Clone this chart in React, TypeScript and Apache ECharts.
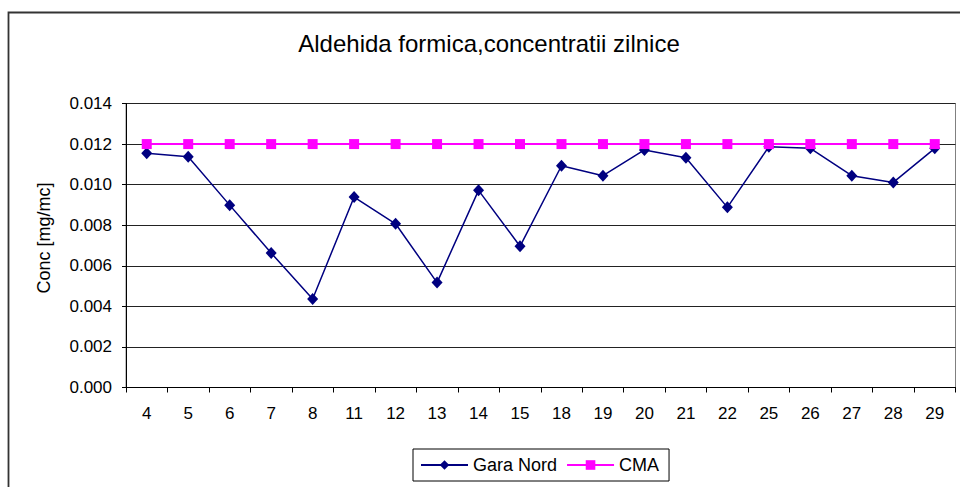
import React, { useEffect, useRef } from "react";
import * as echarts from "echarts";

const categories = ["4", "5", "6", "7", "8", "11", "12", "13", "14", "15", "18", "19", "20", "21", "22", "25", "26", "27", "28", "29"];
const garaNord = [0.01155, 0.01138, 0.00899, 0.00663, 0.00436, 0.00939, 0.00807, 0.00517, 0.00972, 0.00696, 0.01093, 0.01044, 0.01171, 0.01133, 0.00888, 0.01187, 0.01179, 0.01044, 0.01011, 0.01179];
const cma = categories.map(() => 0.012);
const titleText = "Aldehida formica,concentratii zilnice";
const yAxisTitle = "Conc [mg/mc]";
const FONT = "'Liberation Sans', Arial, sans-serif";

export default function App() {
  const ref = useRef<HTMLDivElement>(null);
  useEffect(() => {
    if (!ref.current) return;
    const chart = echarts.init(ref.current, undefined, { renderer: "svg" });
    chart.setOption({
      animation: false,
      backgroundColor: "#fff",
      textStyle: { fontFamily: FONT },
      graphic: [
        {
          type: "rect",
          shape: { x: 8.5, y: 12.5, width: 1000, height: 600 },
          style: { fill: "none", stroke: "#333", lineWidth: 1.8 },
          silent: true,
        },
        {
          type: "text",
          x: 489,
          y: 43,
          style: { text: titleText, font: `24px ${FONT}`, fill: "#000", textAlign: "center", textVerticalAlign: "middle" },
        },
        {
          type: "text",
          x: 44,
          y: 238,
          rotation: Math.PI / 2,
          style: { text: yAxisTitle, font: `18px ${FONT}`, fill: "#000", textAlign: "center", textVerticalAlign: "middle" },
        },
      ],
      grid: {
        left: 126,
        right: 4.5,
        top: 103.5,
        bottom: 99.5,
        show: true,
        borderColor: "#808080",
        borderWidth: 1,
        containLabel: false,
      },
      legend: {
        left: 413,
        top: 449,
        padding: [7, 10, 7, 7],
        itemGap: 9,
        itemWidth: 47,
        itemHeight: 12,
        borderColor: "#000",
        borderWidth: 1,
        textStyle: { fontSize: 18, color: "#000", fontFamily: FONT },
        data: ["Gara Nord", "CMA"],
      },
      xAxis: {
        type: "category",
        data: categories,
        boundaryGap: true,
        axisLine: { lineStyle: { color: "#000", width: 1 } },
        axisTick: { show: true, length: 5, interval: 0, lineStyle: { color: "#000" } },
        axisLabel: { interval: 0, fontSize: 17, color: "#000", margin: 17, fontFamily: FONT },
        splitLine: { show: false },
      },
      yAxis: {
        type: "value",
        min: 0,
        max: 0.014,
        interval: 0.002,
        axisLine: { show: true, lineStyle: { color: "#000", width: 1 } },
        axisTick: { show: true, length: 4, lineStyle: { color: "#000" } },
        axisLabel: { fontSize: 17, color: "#000", margin: 14, fontFamily: FONT, formatter: (v: number) => v.toFixed(3) },
        splitLine: { show: true, lineStyle: { color: "#222", width: 1 } },
      },
      series: [
        {
          name: "Gara Nord",
          type: "line",
          data: garaNord,
          symbol: "diamond",
          symbolSize: [11, 12],
          itemStyle: { color: "#000080" },
          lineStyle: { color: "#000080", width: 1.5 },
        },
        {
          name: "CMA",
          type: "line",
          data: cma,
          symbol: "rect",
          symbolSize: 10,
          itemStyle: { color: "#FF00FF" },
          lineStyle: { color: "#FF00FF", width: 2 },
        },
      ],
    });
    return () => chart.dispose();
  }, []);
  return <div ref={ref} style={{ position: "absolute", left: 0, top: 0, width: 960, height: 487 }} />;
}
